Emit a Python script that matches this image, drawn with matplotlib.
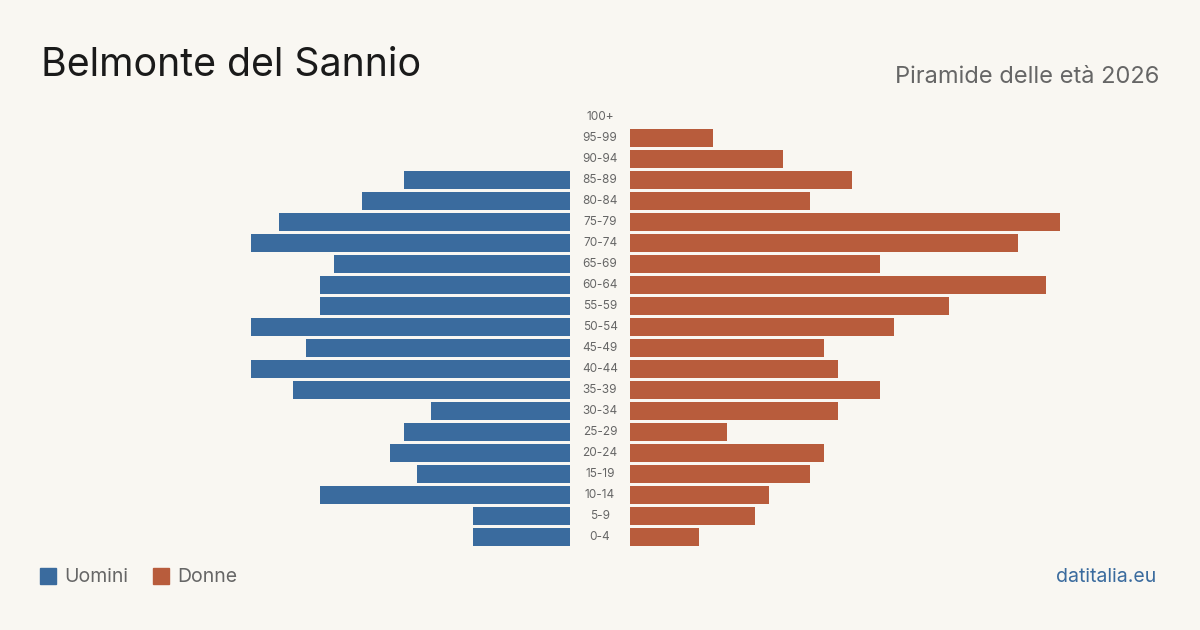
import matplotlib
matplotlib.use("Agg")
import matplotlib.pyplot as plt
from matplotlib.patches import Rectangle

plt.rcParams['font.family'] = ['Inter', 'DejaVu Sans']

age_groups = ["0-4", "5-9", "10-14", "15-19", "20-24", "25-29", "30-34", "35-39",
              "40-44", "45-49", "50-54", "55-59", "60-64", "65-69", "70-74", "75-79",
              "80-84", "85-89", "90-94", "95-99", "100+"]
men = [7, 7, 18, 11, 13, 12, 10, 20, 23, 19, 23, 18, 18, 17, 23, 21, 15, 12, 0, 0, 0]
women = [5, 9, 10, 13, 14, 7, 15, 18, 15, 14, 19, 23, 30, 18, 28, 31, 13, 16, 11, 6, 0]

BG = "#f9f7f2"
BLUE = "#3a6b9e"
ORANGE = "#b85c3c"
W, H = 1200, 630

fig = plt.figure(figsize=(12, 6.3), dpi=100, facecolor=BG)

xmax = 31
ybot = (H - 547.5) / H
yh = 441 / H
axL = fig.add_axes([140 / W, ybot, 430 / W, yh])
axR = fig.add_axes([630 / W, ybot, 430 / W, yh])
pos = list(range(len(age_groups)))
axL.barh(pos, men, height=0.81, color=BLUE)
axR.barh(pos, women, height=0.81, color=ORANGE)
axL.set_xlim(xmax, 0)
axR.set_xlim(0, xmax)
for ax in (axL, axR):
    ax.set_ylim(-0.5, len(age_groups) - 0.5)
    ax.axis("off")
    ax.set_facecolor("none")

for i, lab in enumerate(age_groups):
    axR.annotate(lab, xy=(0, i), xycoords="data", xytext=(-30, 0),
                 textcoords="offset pixels", ha="center", va="center",
                 fontsize=8.5, color="#666666", annotation_clip=False)

fig.text(41 / W, 1 - 66 / H, "Belmonte del Sannio", fontsize=28.3, color="#1a1a1a",
         ha="left", va="center")
fig.text(1159 / W, 1 - 77 / H, "Piramide delle età 2026", fontsize=17, color="#666666",
         ha="right", va="center")

fig.patches.append(Rectangle((40 / W, 1 - 584 / H), 16 / W, 16 / H,
                             transform=fig.transFigure, color=BLUE))
fig.text(64 / W, 1 - 577 / H, "Uomini", fontsize=14, color="#666666", ha="left", va="center")
fig.patches.append(Rectangle((153 / W, 1 - 584 / H), 16 / W, 16 / H,
                             transform=fig.transFigure, color=ORANGE))
fig.text(177 / W, 1 - 577 / H, "Donne", fontsize=14, color="#666666", ha="left", va="center")
fig.text(1156 / W, 1 - 577 / H, "datitalia.eu", fontsize=14, color=BLUE, ha="right", va="center")

fig.savefig("out.png", dpi=100, facecolor=BG)
